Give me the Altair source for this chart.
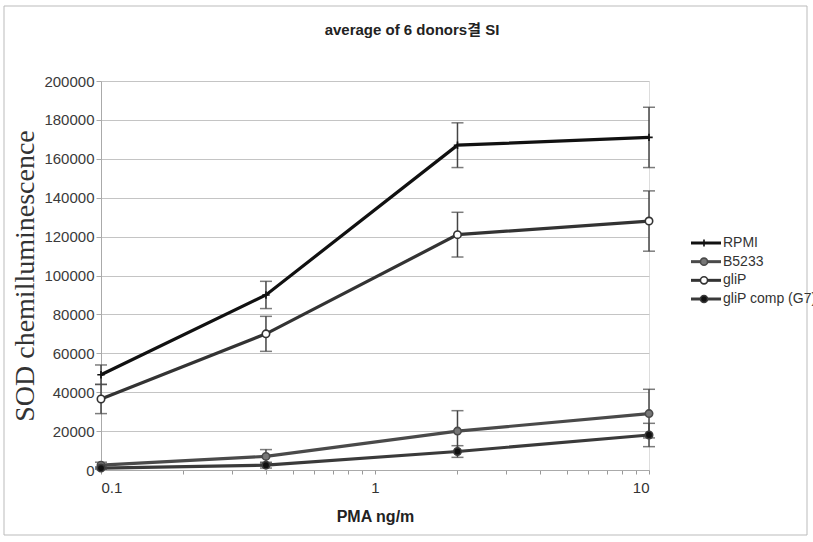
import altair as alt
import pandas as pd

# ---------------- data ----------------
chart_title = ["average of 6 donors결 SI"]
doses = [0.1, 0.4, 2, 10]
series_names = ["RPMI", "B5233", "gliP", "gliP comp (G7)"]
rpmi = [49000, 90000, 167000, 171000]
rpmi_err = [5000, 7000, 11500, 15500]
b5233 = [2500, 7000, 20000, 29000]
b5233_err = [1500, 3500, 10500, 12500]
glip = [36500, 70000, 121000, 128000]
glip_err = [7500, 9000, 11500, 15500]
glipcomp = [1000, 2500, 9500, 18000]
glipcomp_err = [600, 1500, 3000, 6000]

y_ticks = [0, 20000, 40000, 60000, 80000, 100000, 120000, 140000, 160000, 180000, 200000]
x_ticks = [0.1, 0.2, 0.3, 0.4, 0.5, 0.6, 0.7, 0.8, 0.9, 1, 2, 3, 4, 5, 6, 7, 8, 9, 10]
x_labels = [0.1, 1, 10]

rows = []
for name, vals, errs in [
    (series_names[0], rpmi, rpmi_err),
    (series_names[1], b5233, b5233_err),
    (series_names[2], glip, glip_err),
    (series_names[3], glipcomp, glipcomp_err),
]:
    for d, v, e in zip(doses, vals, errs):
        rows.append({"dose": d, "value": v, "lo": v - e, "hi": v + e, "series": name})
df = pd.DataFrame(rows)
leg_df = pd.DataFrame({"series": series_names, "row": list(range(len(series_names)))})

# ---------------- style ----------------
W, H = 548, 389
stroke_colors = ["#111111", "#4a4a4a", "#333333", "#3a3a3a"]
fill_colors = ["#111111", "#777777", "#ffffff", "#111111"]
point_shapes = ["M-1,0H1M0,-1V1", "circle", "circle", "circle"]

stroke_scale = alt.Scale(domain=series_names, range=stroke_colors)
fill_scale = alt.Scale(domain=series_names, range=fill_colors)
shape_scale = alt.Scale(domain=series_names, range=point_shapes)

x_axis = alt.Axis(
    values=x_ticks,
    format="~g",
    labelExpr="indexof(%s, datum.value) >= 0 ? datum.label : ''" % str(x_labels),
    labelOverlap=False,
    title="PMA ng/m",
    titleFont="Liberation Sans Narrow, Liberation Sans",
    titleFontSize=16,
    titleFontWeight="bold",
    titleColor="#222222",
    titlePadding=13,
    labelFont="Liberation Sans",
    labelFontSize=15,
    labelColor="#333333",
    labelPadding=6,
    tickSize=4,
    tickColor="#999999",
    domainColor="#aaaaaa",
    grid=False,
)
x_scale = alt.Scale(type="log", domain=[0.1, 10], nice=False)
y_scale = alt.Scale(domain=[0, 200000], nice=False)
y_axis = alt.Axis(
    values=y_ticks,
    tickCount=11,
    format="d",
    labelOverlap=False,
    title="SOD chemilluminescence",
    titleFont="Liberation Serif",
    titleFontSize=28,
    titleFontWeight="normal",
    titleColor="#333333",
    titlePadding=4,
    labelFont="Liberation Sans",
    labelFontSize=15,
    labelColor="#3a3a3a",
    labelPadding=2,
    tickSize=5,
    tickColor="#aaaaaa",
    domainColor="#aaaaaa",
    grid=True,
    gridColor="#c4c4c4",
    gridWidth=1,
)


def X(field):
    return alt.X(field, type="quantitative", scale=x_scale, axis=x_axis)


def Y(field):
    return alt.Y(field, type="quantitative", scale=y_scale, axis=y_axis)


base = alt.Chart(df)

lines = base.mark_line(strokeWidth=3.2).encode(
    x=X("dose"),
    y=Y("value"),
    stroke=alt.Stroke("series:N", scale=stroke_scale, legend=None),
    detail="series:N",
)

err = base.mark_rule(strokeWidth=1.5, color="#444444").encode(
    x=X("dose"), y=Y("lo"), y2="hi:Q"
)
cap_lo = base.mark_tick(orient="horizontal", size=12, thickness=1.5, color="#444444").encode(
    x=X("dose"), y=Y("lo")
)
cap_hi = base.mark_tick(orient="horizontal", size=12, thickness=1.5, color="#444444").encode(
    x=X("dose"), y=Y("hi")
)

points = base.mark_point(size=55, strokeWidth=1.6, fillOpacity=1, opacity=1).encode(
    x=X("dose"),
    y=Y("value"),
    stroke=alt.Stroke("series:N", scale=stroke_scale, legend=None),
    fill=alt.Fill("series:N", scale=fill_scale, legend=None),
    shape=alt.Shape("series:N", scale=shape_scale, legend=None),
)

data_layer = alt.layer(lines, err, cap_lo, cap_hi, points)

# ---------------- legend (drawn as marks) ----------------
leg_y = alt.Y("row:Q", scale=alt.Scale(domain=[0, 3], range=[162, 218], nice=False, zero=False), axis=None)
leg_base = alt.Chart(leg_df)
leg_line = leg_base.mark_rule(strokeWidth=3).encode(
    x=alt.value(590), x2=alt.value(620), y=leg_y,
    stroke=alt.Stroke("series:N", scale=stroke_scale, legend=None),
)
leg_pt = leg_base.mark_point(size=50, strokeWidth=1.6, fillOpacity=1, opacity=1).encode(
    x=alt.value(603), y=leg_y,
    stroke=alt.Stroke("series:N", scale=stroke_scale, legend=None),
    fill=alt.Fill("series:N", scale=fill_scale, legend=None),
    shape=alt.Shape("series:N", scale=shape_scale, legend=None),
)
leg_txt = leg_base.mark_text(
    align="left", baseline="middle", font="Liberation Sans", fontSize=14, color="#333333"
).encode(x=alt.value(622), y=leg_y, text="series:N")
legend_layer = alt.layer(leg_line, leg_pt, leg_txt)

# ---------------- frame and title ----------------
frame = alt.Chart(pd.DataFrame({"k": [0]})).mark_rect(
    fill="transparent", stroke="#bbbbbb", strokeWidth=1
).encode(
    x=alt.value(-97), x2=alt.value(706), y=alt.value(-75), y2=alt.value(454)
)
title_mark = alt.Chart(pd.DataFrame({"t": chart_title})).mark_text(
    align="center", baseline="middle",
    font="Liberation Sans Narrow, Liberation Sans, Noto Sans CJK KR",
    fontSize=15, fontWeight="bold", color="#222222",
).encode(x=alt.value(311), y=alt.value(-51), text="t:N")

chart = alt.layer(frame, title_mark, data_layer, legend_layer).resolve_scale(y="independent").properties(
    width=W,
    height=H,
    padding={"left": 101, "top": 81, "right": 164, "bottom": 72},
    autosize=alt.AutoSizeParams(type="none"),
).configure_view(stroke=None).configure(background="white")

chart.save("out.html", embed_options={"renderer": "svg", "actions": False})
